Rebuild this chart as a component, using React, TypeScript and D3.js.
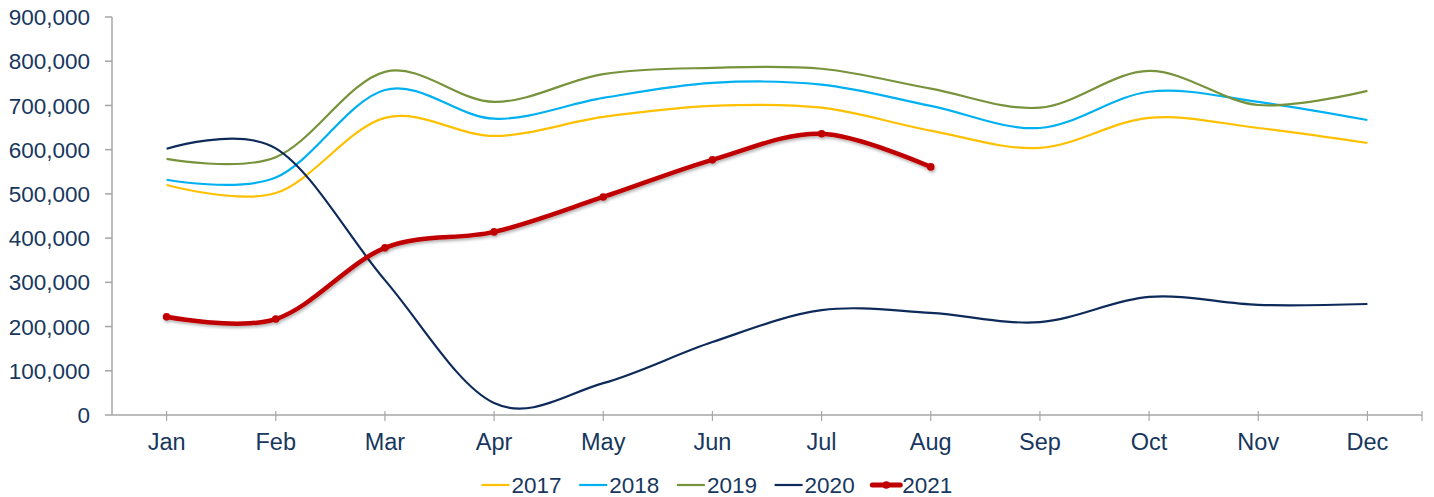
import React from 'react';
import * as d3 from 'd3';

const months = ['Jan', 'Feb', 'Mar', 'Apr', 'May', 'Jun', 'Jul', 'Aug', 'Sep', 'Oct', 'Nov', 'Dec'];
const years = ['2017', '2018', '2019', '2020', '2021'];
const yTicks = [0, 100000, 200000, 300000, 400000, 500000, 600000, 700000, 800000, 900000];

const s2017 = [520000, 502000, 672000, 631000, 674000, 699000, 695000, 643000, 604000, 672000, 649000, 615000];
const s2018 = [532000, 537000, 735000, 670000, 717000, 751000, 747000, 699000, 649000, 731000, 708000, 667000];
const s2019 = [579000, 583000, 776000, 708000, 771000, 785000, 783000, 738000, 695000, 778000, 701000, 733000];
const s2020 = [602000, 603000, 305000, 27000, 72000, 165000, 237000, 231000, 210000, 267000, 249000, 251000];
const s2021 = [222000, 217000, 378000, 414000, 493000, 577000, 636000, 561000];

const colors = ['#FFC000', '#00B0F0', '#77933C', '#0E2A5A', '#C00000'];
const allSeries = [s2017, s2018, s2019, s2020, s2021];

const W = 1434;
const H = 497;
const left = 112;
const right = 1422;
const top = 17;
const bottom = 415;
const textColor = '#17375E';
const axisColor = '#A6A6A6';
const font = '"Liberation Sans", Arial, sans-serif';

export default function App() {
  const x = d3.scaleBand().domain(months).range([left, right]);
  const cx = (m: string) => (x(m) as number) + x.bandwidth() / 2;
  const y = d3.scaleLinear().domain([0, 900000]).range([bottom, top]);
  const fmt = d3.format(',');

  const line = d3
    .line<number>()
    .x((_, i) => cx(months[i]))
    .y((d) => y(d))
    .curve(d3.curveCardinal.tension(0));

  const xTickPos = months.map(cx).concat([right]);

  // legend
  const legendStep = 97.7;
  const legendX0 = 481.5;
  const legendY = 485;
  const legendLine = 28;

  return (
    <div style={{ position: 'absolute', left: 0, top: 0 }}>
      <svg width={W} height={H} style={{ display: 'block', fontFamily: font }}>
        <defs>
          <filter id="shadow" x="-20%" y="-20%" width="140%" height="140%">
            <feDropShadow dx="1" dy="2" stdDeviation="1.5" floodColor="#000" floodOpacity="0.3" />
          </filter>
        </defs>
        <rect width={W} height={H} fill="#fff" />

        {/* y axis */}
        <line x1={left} x2={left} y1={top} y2={bottom} stroke={axisColor} strokeWidth={1.5} />
        {yTicks.map((t) => (
          <g key={t}>
            <line x1={left - 7} x2={left} y1={y(t)} y2={y(t)} stroke={axisColor} strokeWidth={1.5} />
            <text x={90} y={y(t)} dy="0.36em" textAnchor="end" fontSize={22.5} fill={textColor}>
              {fmt(t)}
            </text>
          </g>
        ))}

        {/* x axis */}
        <line x1={left} x2={right} y1={bottom} y2={bottom} stroke={axisColor} strokeWidth={1.5} />
        {xTickPos.map((p, i) => (
          <line key={i} x1={p} x2={p} y1={bottom - 4} y2={bottom + 6} stroke={axisColor} strokeWidth={1.2} />
        ))}
        {months.map((m) => (
          <text key={m} x={cx(m)} y={450} textAnchor="middle" fontSize={23.5} fill={textColor}>
            {m}
          </text>
        ))}

        {/* series */}
        {allSeries.slice(0, 4).map((s, i) => (
          <path key={years[i]} d={line(s) || ''} fill="none" stroke={colors[i]} strokeWidth={2.2} />
        ))}
        <g filter="url(#shadow)">
          <path d={line(s2021) || ''} fill="none" stroke={colors[4]} strokeWidth={4.5} strokeLinecap="round" />
          {s2021.map((v, i) => (
            <circle key={i} cx={cx(months[i])} cy={y(v)} r={3.8} fill={colors[4]} />
          ))}
        </g>

        {/* legend */}
        {years.map((yr, i) => {
          const lx = legendX0 + i * legendStep;
          const isRed = i === 4;
          return (
            <g key={yr}>
              <line
                x1={lx}
                x2={lx + legendLine}
                y1={legendY}
                y2={legendY}
                stroke={colors[i]}
                strokeWidth={isRed ? 5 : 2.2}
                strokeLinecap={isRed ? 'round' : 'butt'}
              />
              {isRed && <circle cx={lx + legendLine / 2} cy={legendY} r={3.8} fill={colors[i]} />}
              <text x={lx + legendLine + 2} y={legendY} dy="0.36em" fontSize={22.5} fill={textColor}>
                {yr}
              </text>
            </g>
          );
        })}
      </svg>
    </div>
  );
}
